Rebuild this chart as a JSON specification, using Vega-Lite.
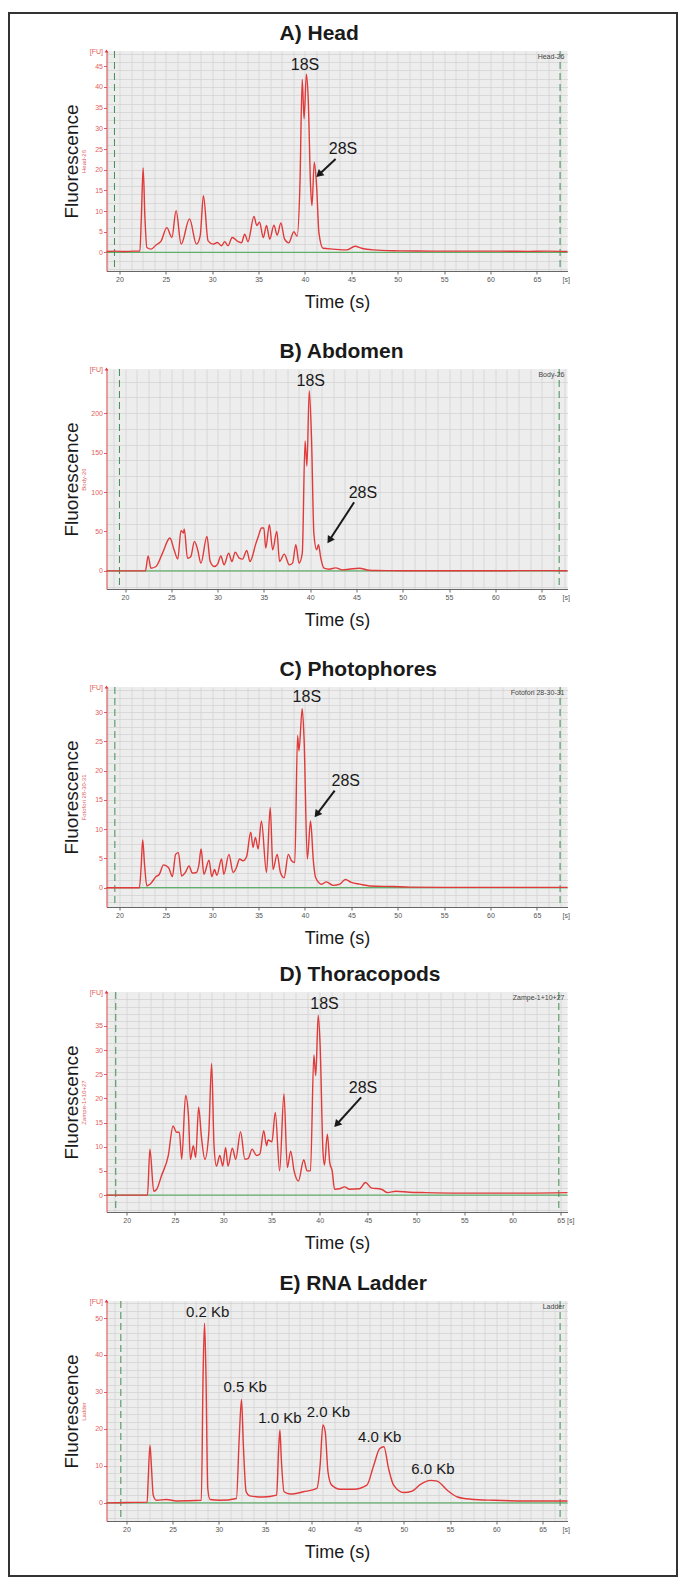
{
"$schema": "https://vega.github.io/schema/vega-lite/v6.json",
"padding": {"left": 8.5, "top": 13, "right": 5, "bottom": 5},
"background": "white",
"config": {
  "view": {"fill": "#ededed", "stroke": null},
  "font": "Liberation Sans",
  "title": {"anchor": "start", "dx": 217, "offset": 3, "fontSize": 21, "fontWeight": "bold", "font": "Liberation Sans", "color": "#1a1a1a"},
  "axis": {"labelFont": "Liberation Sans", "titleFont": "Liberation Sans", "titleFontWeight": "normal"}
},
"resolve": {"scale": {"color": "shared"}, "legend": {"color": "shared"}},
"datasets": {
  "A": [{"t":18.6,"fu":0.2},{"t":19.5,"fu":0.3},{"t":20.5,"fu":0.2},{"t":21.5,"fu":0.3},{"t":22.2,"fu":0.3},{"t":22.35,"fu":8},{"t":22.55,"fu":20.4},{"t":22.75,"fu":8},{"t":22.95,"fu":1.2},{"t":23.4,"fu":0.8},{"t":23.95,"fu":1.8},{"t":24.5,"fu":2.8},{"t":25.1,"fu":6.0},{"t":25.65,"fu":3.6},{"t":26.1,"fu":10.1},{"t":26.65,"fu":2.0},{"t":27.55,"fu":8.1},{"t":28.3,"fu":2.0},{"t":28.7,"fu":4},{"t":29.05,"fu":13.7},{"t":29.55,"fu":2.8},{"t":30.1,"fu":2.0},{"t":30.55,"fu":2.4},{"t":31.0,"fu":1.6},{"t":31.35,"fu":2.6},{"t":31.7,"fu":1.6},{"t":32.15,"fu":3.6},{"t":32.8,"fu":2.6},{"t":33.15,"fu":2.3},{"t":33.5,"fu":4.4},{"t":33.85,"fu":2.6},{"t":34.5,"fu":8.7},{"t":34.8,"fu":6.5},{"t":35.1,"fu":7.3},{"t":35.5,"fu":3.6},{"t":35.85,"fu":6.5},{"t":36.2,"fu":3.2},{"t":36.65,"fu":6.6},{"t":37.0,"fu":4.2},{"t":37.4,"fu":7.1},{"t":37.8,"fu":3.2},{"t":38.25,"fu":2.3},{"t":38.8,"fu":5.0},{"t":39.15,"fu":3.9},{"t":39.45,"fu":16},{"t":39.7,"fu":41.8},{"t":39.9,"fu":32.3},{"t":40.15,"fu":43.1},{"t":40.35,"fu":37},{"t":40.6,"fu":16},{"t":40.75,"fu":11.3},{"t":41.0,"fu":21.8},{"t":41.25,"fu":16.1},{"t":41.5,"fu":4.8},{"t":41.95,"fu":1.0},{"t":43.0,"fu":0.8},{"t":44.5,"fu":0.6},{"t":45.4,"fu":1.5},{"t":46.1,"fu":1.0},{"t":47.35,"fu":0.6},{"t":49.5,"fu":0.4},{"t":52,"fu":0.35},{"t":55,"fu":0.3},{"t":58,"fu":0.3},{"t":61,"fu":0.3},{"t":64,"fu":0.25},{"t":66,"fu":0.3},{"t":68.3,"fu":0.2}],
  "B": [{"t":18.0,"fu":0},{"t":20,"fu":0},{"t":22.2,"fu":0},{"t":22.5,"fu":19},{"t":22.8,"fu":3.4},{"t":23.35,"fu":5.5},{"t":24.05,"fu":22.5},{"t":24.85,"fu":41.6},{"t":25.3,"fu":26.8},{"t":25.7,"fu":14.9},{"t":26.05,"fu":51.4},{"t":26.3,"fu":48},{"t":26.4,"fu":53},{"t":26.75,"fu":16},{"t":27.1,"fu":18},{"t":27.5,"fu":37.4},{"t":27.85,"fu":26.8},{"t":28.2,"fu":9.8},{"t":28.85,"fu":43.7},{"t":29.2,"fu":11.9},{"t":29.65,"fu":5.5},{"t":30.0,"fu":8.5},{"t":30.35,"fu":19},{"t":30.7,"fu":7.6},{"t":31.2,"fu":22.5},{"t":31.55,"fu":11.9},{"t":31.9,"fu":23.8},{"t":32.35,"fu":16.1},{"t":32.7,"fu":14.9},{"t":33.15,"fu":25.9},{"t":33.5,"fu":11.9},{"t":34.15,"fu":35.2},{"t":34.4,"fu":43.7},{"t":34.75,"fu":54.4},{"t":35.0,"fu":54.4},{"t":35.2,"fu":28.9},{"t":35.6,"fu":58.6},{"t":35.95,"fu":26.8},{"t":36.4,"fu":50.1},{"t":36.7,"fu":11.9},{"t":37.2,"fu":21.2},{"t":37.75,"fu":7.6},{"t":38.1,"fu":9.8},{"t":38.45,"fu":33.1},{"t":38.8,"fu":9.8},{"t":39.15,"fu":22.5},{"t":39.45,"fu":164.8},{"t":39.65,"fu":132.9},{"t":39.9,"fu":228.5},{"t":40.15,"fu":166.9},{"t":40.4,"fu":48},{"t":40.7,"fu":26.8},{"t":40.9,"fu":33.1},{"t":41.15,"fu":16.1},{"t":41.5,"fu":3.4},{"t":42.05,"fu":2.1},{"t":42.75,"fu":3.8},{"t":43.5,"fu":1.3},{"t":44.2,"fu":2.1},{"t":45.3,"fu":3.4},{"t":46.35,"fu":0.8},{"t":47.1,"fu":0.4},{"t":50,"fu":0.2},{"t":55,"fu":0.2},{"t":60,"fu":0.2},{"t":64.5,"fu":0.3},{"t":67.8,"fu":0.2}],
  "C": [{"t":18.6,"fu":0},{"t":20,"fu":0},{"t":22.15,"fu":0},{"t":22.35,"fu":4},{"t":22.5,"fu":8.2},{"t":22.7,"fu":4},{"t":22.95,"fu":0.3},{"t":23.3,"fu":0.6},{"t":23.95,"fu":1.9},{"t":24.3,"fu":2.3},{"t":24.75,"fu":3.9},{"t":25.3,"fu":3.4},{"t":25.7,"fu":1.9},{"t":26.05,"fu":5.7},{"t":26.35,"fu":6.0},{"t":26.7,"fu":2.0},{"t":27.1,"fu":2.6},{"t":27.5,"fu":3.7},{"t":27.85,"fu":2.5},{"t":28.3,"fu":2.6},{"t":28.55,"fu":3.8},{"t":28.8,"fu":6.6},{"t":29.1,"fu":2.3},{"t":29.65,"fu":4.7},{"t":29.95,"fu":1.9},{"t":30.25,"fu":3.1},{"t":30.5,"fu":2.1},{"t":31.0,"fu":4.9},{"t":31.25,"fu":2.3},{"t":31.8,"fu":5.7},{"t":32.25,"fu":2.6},{"t":32.6,"fu":3.4},{"t":32.95,"fu":4.9},{"t":33.3,"fu":4.6},{"t":33.7,"fu":5.3},{"t":34.15,"fu":9.5},{"t":34.4,"fu":6.9},{"t":34.65,"fu":8.6},{"t":34.95,"fu":6.6},{"t":35.3,"fu":11.4},{"t":35.85,"fu":2.6},{"t":36.25,"fu":13.7},{"t":36.55,"fu":3.1},{"t":37.0,"fu":5.7},{"t":37.35,"fu":2.6},{"t":37.75,"fu":1.7},{"t":38.2,"fu":5.7},{"t":38.55,"fu":4.6},{"t":38.9,"fu":4.3},{"t":39.2,"fu":26},{"t":39.35,"fu":23.4},{"t":39.7,"fu":30.6},{"t":39.9,"fu":25.4},{"t":40.25,"fu":4.9},{"t":40.6,"fu":11.4},{"t":40.9,"fu":4.6},{"t":41.15,"fu":1.7},{"t":41.8,"fu":0.6},{"t":42.3,"fu":1.0},{"t":43.05,"fu":0.4},{"t":43.75,"fu":0.6},{"t":44.35,"fu":1.4},{"t":45.0,"fu":0.9},{"t":45.9,"fu":0.6},{"t":47.0,"fu":0.3},{"t":49.5,"fu":0.2},{"t":51.3,"fu":0.1},{"t":55,"fu":0.05},{"t":60,"fu":0.05},{"t":65,"fu":0.05},{"t":68.3,"fu":0.05}],
  "D": [{"t":17.9,"fu":0},{"t":20,"fu":0},{"t":22.15,"fu":0},{"t":22.4,"fu":9.5},{"t":22.8,"fu":0.8},{"t":23.1,"fu":1.2},{"t":23.6,"fu":4.0},{"t":24.3,"fu":8.1},{"t":24.8,"fu":14.3},{"t":25.15,"fu":13},{"t":25.45,"fu":13},{"t":25.7,"fu":7.4},{"t":26.1,"fu":20.6},{"t":26.4,"fu":16.4},{"t":26.6,"fu":7.4},{"t":26.9,"fu":10.2},{"t":27.15,"fu":7.8},{"t":27.45,"fu":18.2},{"t":27.75,"fu":11.9},{"t":28.1,"fu":7.4},{"t":28.5,"fu":12.6},{"t":28.8,"fu":27.2},{"t":29.05,"fu":10.2},{"t":29.3,"fu":6.0},{"t":29.65,"fu":8.2},{"t":29.95,"fu":6.0},{"t":30.25,"fu":9.8},{"t":30.5,"fu":6.0},{"t":30.95,"fu":9.7},{"t":31.3,"fu":7.4},{"t":31.8,"fu":13.1},{"t":32.25,"fu":7.4},{"t":32.6,"fu":7.6},{"t":33.0,"fu":9.5},{"t":33.45,"fu":8.2},{"t":33.8,"fu":8.5},{"t":34.2,"fu":13.3},{"t":34.5,"fu":10.2},{"t":34.65,"fu":11.4},{"t":35.05,"fu":11.0},{"t":35.4,"fu":17.1},{"t":35.85,"fu":5.0},{"t":36.3,"fu":20.9},{"t":36.65,"fu":5.7},{"t":37.0,"fu":9.1},{"t":37.35,"fu":5.0},{"t":37.8,"fu":2.9},{"t":38.35,"fu":7.3},{"t":38.7,"fu":5.0},{"t":39.05,"fu":5.0},{"t":39.4,"fu":29.0},{"t":39.6,"fu":24.7},{"t":39.85,"fu":37.2},{"t":40.05,"fu":31.0},{"t":40.35,"fu":8.8},{"t":40.5,"fu":6.2},{"t":40.8,"fu":12.6},{"t":41.05,"fu":6.7},{"t":41.3,"fu":5.0},{"t":41.55,"fu":1.2},{"t":42.05,"fu":1.3},{"t":42.6,"fu":1.7},{"t":43.1,"fu":1.2},{"t":44.15,"fu":1.3},{"t":44.75,"fu":2.6},{"t":45.35,"fu":1.5},{"t":46.4,"fu":1.2},{"t":47.05,"fu":0.5},{"t":47.9,"fu":0.8},{"t":49.3,"fu":0.6},{"t":51.0,"fu":0.5},{"t":54.5,"fu":0.4},{"t":57.9,"fu":0.4},{"t":61.4,"fu":0.4},{"t":65.7,"fu":0.5}],
  "E": [{"t":17.85,"fu":0},{"t":20,"fu":0.1},{"t":22.25,"fu":0.2},{"t":22.35,"fu":5.7},{"t":22.55,"fu":15.6},{"t":22.7,"fu":10.2},{"t":22.9,"fu":2.1},{"t":23.25,"fu":0.7},{"t":24.35,"fu":0.9},{"t":25.4,"fu":0.5},{"t":28.1,"fu":0.7},{"t":28.3,"fu":35.5},{"t":28.45,"fu":48.6},{"t":28.6,"fu":35.5},{"t":28.8,"fu":3.9},{"t":29.05,"fu":0.9},{"t":30.1,"fu":0.7},{"t":31.9,"fu":1.2},{"t":32.2,"fu":17.5},{"t":32.45,"fu":28.0},{"t":32.65,"fu":15.6},{"t":32.95,"fu":3.0},{"t":33.35,"fu":1.9},{"t":34.8,"fu":1.6},{"t":36.25,"fu":2.1},{"t":36.45,"fu":13.8},{"t":36.6,"fu":19.7},{"t":36.75,"fu":12.0},{"t":37.05,"fu":3.0},{"t":37.7,"fu":2.4},{"t":39.15,"fu":3.0},{"t":40.6,"fu":3.9},{"t":40.95,"fu":10.2},{"t":41.25,"fu":21.1},{"t":41.5,"fu":19.3},{"t":41.8,"fu":8.4},{"t":42.2,"fu":4.8},{"t":43.15,"fu":3.7},{"t":44.6,"fu":3.7},{"t":46.0,"fu":4.8},{"t":46.75,"fu":10.2},{"t":47.4,"fu":14.7},{"t":47.85,"fu":15.2},{"t":48.35,"fu":9.3},{"t":48.9,"fu":4.8},{"t":50.0,"fu":2.8},{"t":50.9,"fu":3.2},{"t":51.8,"fu":5.0},{"t":52.9,"fu":6.1},{"t":53.6,"fu":5.9},{"t":54.7,"fu":3.4},{"t":55.8,"fu":1.6},{"t":57.25,"fu":1.0},{"t":59.75,"fu":0.7},{"t":63.35,"fu":0.5},{"t":67.7,"fu":0.5}]
},
"spacing": 17,
"vconcat": [
 {"spacing": 30, "resolve": {"scale": {"color": "shared"}, "legend": {"color": "shared"}}, "vconcat": [
  {"width": 461, "height": 220, "title": {"text": "A) Head"},
   "resolve": {"axis": {"x": "independent", "y": "independent"}},
   "layer": [
    {"data": {"values": [{"fu": 0}]}, "mark": {"type": "rule", "color": "#5fae6a", "strokeWidth": 1.2},
     "encoding": {"y": {"field": "fu", "type": "quantitative", "scale": {"domain": [-4.5, 48.7], "nice": false, "zero": false},
       "axis": {"orient": "left", "values": [-4,-2,0,2,4,6,8,10,12,14,16,18,20,22,24,26,28,30,32,34,36,38,40,42,44,46,48], "grid": true, "gridColor": "#d3d3d3", "gridWidth": 0.8, "labels": false, "ticks": false, "domain": false, "title": "Fluorescence", "titleFontSize": 19, "titleColor": "#1a1a1a", "titlePadding": 25}}}},
    {"data": {"values": [{"t": 19.46}, {"t": 67.5}]}, "mark": {"type": "rule", "color": "#3f8f55", "strokeDash": [7, 4], "strokeWidth": 1},
     "encoding": {"x": {"field": "t", "type": "quantitative", "scale": {"domain": [18.6, 68.3], "nice": false, "zero": false},
       "axis": {"orient": "bottom", "values": [18.75,20,21.25,22.5,23.75,25,26.25,27.5,28.75,30,31.25,32.5,33.75,35,36.25,37.5,38.75,40,41.25,42.5,43.75,45,46.25,47.5,48.75,50,51.25,52.5,53.75,55,56.25,57.5,58.75,60,61.25,62.5,63.75,65,66.25,67.5], "grid": true, "gridColor": "#d3d3d3", "gridWidth": 0.8, "labels": false, "ticks": false, "domain": false, "title": null}}}},
    {"data": {"name": "A"}, "mark": {"type": "line", "color": "#e03a3a", "strokeWidth": 1.4, "interpolate": "monotone"},
     "encoding": {
      "x": {"field": "t", "type": "quantitative", "scale": {"domain": [18.6, 68.3], "nice": false, "zero": false},
        "axis": {"orient": "bottom", "values": [20,25,30,35,40,45,50,55,60,65,68.1], "labelExpr": "datum.value > 66 ? '[s]' : datum.label", "tickOpacity": {"condition": {"test": "datum.value > 66", "value": 0}, "value": 1}, "grid": false, "labelFontSize": 7, "labelColor": "#555", "tickColor": "#666", "domainColor": "#666", "tickSize": 3, "labelPadding": 1, "labelOverlap": false, "labelFlush": false, "title": "Time (s)", "titleFontSize": 18, "titleColor": "#1a1a1a", "titlePadding": 11}},
      "y": {"field": "fu", "type": "quantitative", "scale": {"domain": [-4.5, 48.7], "nice": false, "zero": false},
        "axis": {"orient": "left", "values": [0,5,10,15,20,25,30,35,40,45,48.7], "labelExpr": "datum.value > 47 ? '[FU]' : datum.label", "tickOpacity": {"condition": {"test": "datum.value > 47", "value": 0}, "value": 1}, "grid": false, "labelFontSize": 7, "labelColor": "#e06060", "tickColor": "#e06060", "domainColor": "#e04848", "tickSize": 3, "labelPadding": 1, "labelOverlap": false, "labelFlush": false, "title": "Head-26", "titleFontSize": 6, "titleColor": "#e06060", "titlePadding": 3}}}},
    {"data": {"values": [{"t": 40.0, "fu": 45.2, "label": "18S"}, {"t": 44.1, "fu": 25, "label": "28S"}]},
     "mark": {"type": "text", "fontSize": 16, "color": "#1a1a1a", "baseline": "middle"},
     "encoding": {"x": {"field": "t", "type": "quantitative", "scale": {"domain": [18.6, 68.3], "nice": false, "zero": false}, "axis": null},
      "y": {"field": "fu", "type": "quantitative", "scale": {"domain": [-4.5, 48.7], "nice": false, "zero": false}, "axis": null}, "text": {"field": "label"}}},
    {"data": {"values": [{"t": 43.3, "fu": 22.6, "t2": 41.6, "fu2": 19.0}]}, "mark": {"type": "rule", "color": "#1a1a1a", "strokeWidth": 2},
     "encoding": {"x": {"field": "t", "type": "quantitative", "scale": {"domain": [18.6, 68.3], "nice": false, "zero": false}, "axis": null},
      "y": {"field": "fu", "type": "quantitative", "scale": {"domain": [-4.5, 48.7], "nice": false, "zero": false}, "axis": null},
      "x2": {"field": "t2"}, "y2": {"field": "fu2"}}},
    {"data": {"values": [{"t2": 41.6, "fu2": 19.0}]}, "mark": {"type": "point", "shape": "triangle", "filled": true, "size": 70, "angle": 227, "color": "#1a1a1a", "opacity": 1},
     "encoding": {"x": {"field": "t2", "type": "quantitative", "scale": {"domain": [18.6, 68.3], "nice": false, "zero": false}, "axis": null},
      "y": {"field": "fu2", "type": "quantitative", "scale": {"domain": [-4.5, 48.7], "nice": false, "zero": false}, "axis": null}}},
    {"data": {"values": [{}]}, "mark": {"type": "text", "text": "Head-26", "align": "right", "baseline": "top", "fontSize": 7, "color": "#444", "dx": -3, "dy": 2},
     "encoding": {"x": {"datum": 68.3, "type": "quantitative", "scale": {"domain": [18.6, 68.3], "nice": false, "zero": false}, "axis": null},
      "y": {"datum": 48.7, "type": "quantitative", "scale": {"domain": [-4.5, 48.7], "nice": false, "zero": false}, "axis": null}}},
    {"data": {"values": [{}]}, "mark": {"type": "point", "shape": "triangle-up", "filled": true, "size": 14, "color": "#e03a3a", "opacity": 1},
     "encoding": {"x": {"datum": 18.6, "type": "quantitative", "scale": {"domain": [18.6, 68.3], "nice": false, "zero": false}, "axis": null},
      "y": {"datum": 48.7, "type": "quantitative", "scale": {"domain": [-4.5, 48.7], "nice": false, "zero": false}, "axis": null}}},
    {"data": {"values": [{"v": 0}, {"v": 1}]}, "mark": {"type": "point", "opacity": 0},
     "encoding": {"x": {"datum": 30, "type": "quantitative", "scale": {"domain": [18.6, 68.3], "nice": false, "zero": false}, "axis": null},
      "y": {"datum": 10, "type": "quantitative", "scale": {"domain": [-4.5, 48.7], "nice": false, "zero": false}, "axis": null},
      "color": {"field": "v", "type": "quantitative", "scale": {"domain": [0, 1], "range": ["rgba(255,255,255,0)", "rgba(255,255,255,0)"]},
        "legend": {"orient": "none", "legendX": -97.5, "legendY": -38, "direction": "vertical", "gradientLength": 1563, "gradientThickness": 668, "gradientStrokeColor": "#333333", "gradientStrokeWidth": 2, "title": null, "labelExpr": "''", "labelFontSize": 1, "padding": 0, "offset": 0, "tickCount": 2}}}}
   ]},
  {"width": 461, "height": 220, "title": {"text": "B) Abdomen"},
   "resolve": {"axis": {"x": "independent", "y": "independent"}},
   "layer": [
    {"data": {"values": [{"fu": 0}]}, "mark": {"type": "rule", "color": "#5fae6a", "strokeWidth": 1.2},
     "encoding": {"y": {"field": "fu", "type": "quantitative", "scale": {"domain": [-23, 256], "nice": false, "zero": false},
       "axis": {"orient": "left", "values": [-20,0,20,40,60,80,100,120,140,160,180,200,220,240], "grid": true, "gridColor": "#d3d3d3", "gridWidth": 0.8, "labels": false, "ticks": false, "domain": false, "title": "Fluorescence", "titleFontSize": 19, "titleColor": "#1a1a1a", "titlePadding": 25}}}},
    {"data": {"values": [{"t": 19.4}, {"t": 66.9}]}, "mark": {"type": "rule", "color": "#3f8f55", "strokeDash": [7, 4], "strokeWidth": 1},
     "encoding": {"x": {"field": "t", "type": "quantitative", "scale": {"domain": [18.0, 67.8], "nice": false, "zero": false},
       "axis": {"orient": "bottom", "values": [18.75,20,21.25,22.5,23.75,25,26.25,27.5,28.75,30,31.25,32.5,33.75,35,36.25,37.5,38.75,40,41.25,42.5,43.75,45,46.25,47.5,48.75,50,51.25,52.5,53.75,55,56.25,57.5,58.75,60,61.25,62.5,63.75,65,66.25,67.5], "grid": true, "gridColor": "#d3d3d3", "gridWidth": 0.8, "labels": false, "ticks": false, "domain": false, "title": null}}}},
    {"data": {"name": "B"}, "mark": {"type": "line", "color": "#e03a3a", "strokeWidth": 1.4, "interpolate": "monotone"},
     "encoding": {
      "x": {"field": "t", "type": "quantitative", "scale": {"domain": [18.0, 67.8], "nice": false, "zero": false},
        "axis": {"orient": "bottom", "values": [20,25,30,35,40,45,50,55,60,65,67.6], "labelExpr": "datum.value > 66 ? '[s]' : datum.label", "tickOpacity": {"condition": {"test": "datum.value > 66", "value": 0}, "value": 1}, "grid": false, "labelFontSize": 7, "labelColor": "#555", "tickColor": "#666", "domainColor": "#666", "tickSize": 3, "labelPadding": 1, "labelOverlap": false, "labelFlush": false, "title": "Time (s)", "titleFontSize": 18, "titleColor": "#1a1a1a", "titlePadding": 11}},
      "y": {"field": "fu", "type": "quantitative", "scale": {"domain": [-23, 256], "nice": false, "zero": false},
        "axis": {"orient": "left", "values": [0,50,100,150,200,256], "labelExpr": "datum.value > 250 ? '[FU]' : datum.label", "tickOpacity": {"condition": {"test": "datum.value > 250", "value": 0}, "value": 1}, "grid": false, "labelFontSize": 7, "labelColor": "#e06060", "tickColor": "#e06060", "domainColor": "#e04848", "tickSize": 3, "labelPadding": 1, "labelOverlap": false, "labelFlush": false, "title": "Body-26", "titleFontSize": 6, "titleColor": "#e06060", "titlePadding": 3}}}},
    {"data": {"values": [{"t": 40.07, "fu": 241, "label": "18S"}, {"t": 45.7, "fu": 99, "label": "28S"}]},
     "mark": {"type": "text", "fontSize": 16, "color": "#1a1a1a", "baseline": "middle"},
     "encoding": {"x": {"field": "t", "type": "quantitative", "scale": {"domain": [18.0, 67.8], "nice": false, "zero": false}, "axis": null},
      "y": {"field": "fu", "type": "quantitative", "scale": {"domain": [-23, 256], "nice": false, "zero": false}, "axis": null}, "text": {"field": "label"}}},
    {"data": {"values": [{"t": 44.75, "fu": 87, "t2": 42.15, "fu2": 40}]}, "mark": {"type": "rule", "color": "#1a1a1a", "strokeWidth": 2},
     "encoding": {"x": {"field": "t", "type": "quantitative", "scale": {"domain": [18.0, 67.8], "nice": false, "zero": false}, "axis": null},
      "y": {"field": "fu", "type": "quantitative", "scale": {"domain": [-23, 256], "nice": false, "zero": false}, "axis": null},
      "x2": {"field": "t2"}, "y2": {"field": "fu2"}}},
    {"data": {"values": [{"t2": 42.15, "fu2": 40}]}, "mark": {"type": "point", "shape": "triangle", "filled": true, "size": 70, "angle": 213, "color": "#1a1a1a", "opacity": 1},
     "encoding": {"x": {"field": "t2", "type": "quantitative", "scale": {"domain": [18.0, 67.8], "nice": false, "zero": false}, "axis": null},
      "y": {"field": "fu2", "type": "quantitative", "scale": {"domain": [-23, 256], "nice": false, "zero": false}, "axis": null}}},
    {"data": {"values": [{}]}, "mark": {"type": "text", "text": "Body-26", "align": "right", "baseline": "top", "fontSize": 7, "color": "#444", "dx": -3, "dy": 2},
     "encoding": {"x": {"datum": 67.8, "type": "quantitative", "scale": {"domain": [18.0, 67.8], "nice": false, "zero": false}, "axis": null},
      "y": {"datum": 256, "type": "quantitative", "scale": {"domain": [-23, 256], "nice": false, "zero": false}, "axis": null}}},
    {"data": {"values": [{}]}, "mark": {"type": "point", "shape": "triangle-up", "filled": true, "size": 14, "color": "#e03a3a", "opacity": 1},
     "encoding": {"x": {"datum": 18.0, "type": "quantitative", "scale": {"domain": [18.0, 67.8], "nice": false, "zero": false}, "axis": null},
      "y": {"datum": 256, "type": "quantitative", "scale": {"domain": [-23, 256], "nice": false, "zero": false}, "axis": null}}}
   ]},
  {"width": 461, "height": 220, "title": {"text": "C) Photophores"},
   "resolve": {"axis": {"x": "independent", "y": "independent"}},
   "layer": [
    {"data": {"values": [{"fu": 0}]}, "mark": {"type": "rule", "color": "#5fae6a", "strokeWidth": 1.2},
     "encoding": {"y": {"field": "fu", "type": "quantitative", "scale": {"domain": [-3.3, 34.3], "nice": false, "zero": false},
       "axis": {"orient": "left", "values": [-2.5,-1.25,0,1.25,2.5,3.75,5,6.25,7.5,8.75,10,11.25,12.5,13.75,15,16.25,17.5,18.75,20,21.25,22.5,23.75,25,26.25,27.5,28.75,30,31.25,32.5,33.75], "grid": true, "gridColor": "#d3d3d3", "gridWidth": 0.8, "labels": false, "ticks": false, "domain": false, "title": "Fluorescence", "titleFontSize": 19, "titleColor": "#1a1a1a", "titlePadding": 25}}}},
    {"data": {"values": [{"t": 19.5}, {"t": 67.5}]}, "mark": {"type": "rule", "color": "#3f8f55", "strokeDash": [7, 4], "strokeWidth": 1},
     "encoding": {"x": {"field": "t", "type": "quantitative", "scale": {"domain": [18.6, 68.3], "nice": false, "zero": false},
       "axis": {"orient": "bottom", "values": [18.75,20,21.25,22.5,23.75,25,26.25,27.5,28.75,30,31.25,32.5,33.75,35,36.25,37.5,38.75,40,41.25,42.5,43.75,45,46.25,47.5,48.75,50,51.25,52.5,53.75,55,56.25,57.5,58.75,60,61.25,62.5,63.75,65,66.25,67.5], "grid": true, "gridColor": "#d3d3d3", "gridWidth": 0.8, "labels": false, "ticks": false, "domain": false, "title": null}}}},
    {"data": {"name": "C"}, "mark": {"type": "line", "color": "#e03a3a", "strokeWidth": 1.4, "interpolate": "monotone"},
     "encoding": {
      "x": {"field": "t", "type": "quantitative", "scale": {"domain": [18.6, 68.3], "nice": false, "zero": false},
        "axis": {"orient": "bottom", "values": [20,25,30,35,40,45,50,55,60,65,68.1], "labelExpr": "datum.value > 66 ? '[s]' : datum.label", "tickOpacity": {"condition": {"test": "datum.value > 66", "value": 0}, "value": 1}, "grid": false, "labelFontSize": 7, "labelColor": "#555", "tickColor": "#666", "domainColor": "#666", "tickSize": 3, "labelPadding": 1, "labelOverlap": false, "labelFlush": false, "title": "Time (s)", "titleFontSize": 18, "titleColor": "#1a1a1a", "titlePadding": 11}},
      "y": {"field": "fu", "type": "quantitative", "scale": {"domain": [-3.3, 34.3], "nice": false, "zero": false},
        "axis": {"orient": "left", "values": [0,5,10,15,20,25,30,34.3], "labelExpr": "datum.value > 33 ? '[FU]' : datum.label", "tickOpacity": {"condition": {"test": "datum.value > 33", "value": 0}, "value": 1}, "grid": false, "labelFontSize": 7, "labelColor": "#e06060", "tickColor": "#e06060", "domainColor": "#e04848", "tickSize": 3, "labelPadding": 1, "labelOverlap": false, "labelFlush": false, "title": "Fotofori 28-30-31", "titleFontSize": 6, "titleColor": "#e06060", "titlePadding": 3}}}},
    {"data": {"values": [{"t": 40.2, "fu": 32.6, "label": "18S"}, {"t": 44.4, "fu": 18.3, "label": "28S"}]},
     "mark": {"type": "text", "fontSize": 16, "color": "#1a1a1a", "baseline": "middle"},
     "encoding": {"x": {"field": "t", "type": "quantitative", "scale": {"domain": [18.6, 68.3], "nice": false, "zero": false}, "axis": null},
      "y": {"field": "fu", "type": "quantitative", "scale": {"domain": [-3.3, 34.3], "nice": false, "zero": false}, "axis": null}, "text": {"field": "label"}}},
    {"data": {"values": [{"t": 43.2, "fu": 16.6, "t2": 41.35, "fu2": 12.7}]}, "mark": {"type": "rule", "color": "#1a1a1a", "strokeWidth": 2},
     "encoding": {"x": {"field": "t", "type": "quantitative", "scale": {"domain": [18.6, 68.3], "nice": false, "zero": false}, "axis": null},
      "y": {"field": "fu", "type": "quantitative", "scale": {"domain": [-3.3, 34.3], "nice": false, "zero": false}, "axis": null},
      "x2": {"field": "t2"}, "y2": {"field": "fu2"}}},
    {"data": {"values": [{"t2": 41.35, "fu2": 12.7}]}, "mark": {"type": "point", "shape": "triangle", "filled": true, "size": 70, "angle": 217, "color": "#1a1a1a", "opacity": 1},
     "encoding": {"x": {"field": "t2", "type": "quantitative", "scale": {"domain": [18.6, 68.3], "nice": false, "zero": false}, "axis": null},
      "y": {"field": "fu2", "type": "quantitative", "scale": {"domain": [-3.3, 34.3], "nice": false, "zero": false}, "axis": null}}},
    {"data": {"values": [{}]}, "mark": {"type": "text", "text": "Fotofori 28-30-31", "align": "right", "baseline": "top", "fontSize": 7, "color": "#444", "dx": -3, "dy": 2},
     "encoding": {"x": {"datum": 68.3, "type": "quantitative", "scale": {"domain": [18.6, 68.3], "nice": false, "zero": false}, "axis": null},
      "y": {"datum": 34.3, "type": "quantitative", "scale": {"domain": [-3.3, 34.3], "nice": false, "zero": false}, "axis": null}}},
    {"data": {"values": [{}]}, "mark": {"type": "point", "shape": "triangle-up", "filled": true, "size": 14, "color": "#e03a3a", "opacity": 1},
     "encoding": {"x": {"datum": 18.6, "type": "quantitative", "scale": {"domain": [18.6, 68.3], "nice": false, "zero": false}, "axis": null},
      "y": {"datum": 34.3, "type": "quantitative", "scale": {"domain": [-3.3, 34.3], "nice": false, "zero": false}, "axis": null}}}
   ]}
 ]},
 {"spacing": 21, "vconcat": [
  {"width": 461, "height": 220, "title": {"text": "D) Thoracopods"},
   "resolve": {"axis": {"x": "independent", "y": "independent"}},
   "layer": [
    {"data": {"values": [{"fu": 0}]}, "mark": {"type": "rule", "color": "#5fae6a", "strokeWidth": 1.2},
     "encoding": {"y": {"field": "fu", "type": "quantitative", "scale": {"domain": [-3.5, 42], "nice": false, "zero": false},
       "axis": {"orient": "left", "values": [-3,-1.5,0,1.5,3,4.5,6,7.5,9,10.5,12,13.5,15,16.5,18,19.5,21,22.5,24,25.5,27,28.5,30,31.5,33,34.5,36,37.5,39,40.5], "grid": true, "gridColor": "#d3d3d3", "gridWidth": 0.8, "labels": false, "ticks": false, "domain": false, "title": "Fluorescence", "titleFontSize": 19, "titleColor": "#1a1a1a", "titlePadding": 25}}}},
    {"data": {"values": [{"t": 18.86}, {"t": 64.8}]}, "mark": {"type": "rule", "color": "#3f8f55", "strokeDash": [7, 4], "strokeWidth": 1},
     "encoding": {"x": {"field": "t", "type": "quantitative", "scale": {"domain": [17.9, 65.7], "nice": false, "zero": false},
       "axis": {"orient": "bottom", "values": [18.75,20,21.25,22.5,23.75,25,26.25,27.5,28.75,30,31.25,32.5,33.75,35,36.25,37.5,38.75,40,41.25,42.5,43.75,45,46.25,47.5,48.75,50,51.25,52.5,53.75,55,56.25,57.5,58.75,60,61.25,62.5,63.75,65], "grid": true, "gridColor": "#d3d3d3", "gridWidth": 0.8, "labels": false, "ticks": false, "domain": false, "title": null}}}},
    {"data": {"name": "D"}, "mark": {"type": "line", "color": "#e03a3a", "strokeWidth": 1.4, "interpolate": "monotone"},
     "encoding": {
      "x": {"field": "t", "type": "quantitative", "scale": {"domain": [17.9, 65.7], "nice": false, "zero": false},
        "axis": {"orient": "bottom", "values": [20,25,30,35,40,45,50,55,60,65,65.6], "labelExpr": "datum.value > 65.3 ? '[s]' : datum.label", "labelAlign": {"condition": {"test": "datum.value > 65.3", "value": "left"}, "value": "center"}, "tickOpacity": {"condition": {"test": "datum.value > 65.3", "value": 0}, "value": 1}, "grid": false, "labelFontSize": 7, "labelColor": "#555", "tickColor": "#666", "domainColor": "#666", "tickSize": 3, "labelPadding": 1, "labelOverlap": false, "labelFlush": false, "title": "Time (s)", "titleFontSize": 18, "titleColor": "#1a1a1a", "titlePadding": 11}},
      "y": {"field": "fu", "type": "quantitative", "scale": {"domain": [-3.5, 42], "nice": false, "zero": false},
        "axis": {"orient": "left", "values": [0,5,10,15,20,25,30,35,42], "labelExpr": "datum.value > 40 ? '[FU]' : datum.label", "tickOpacity": {"condition": {"test": "datum.value > 40", "value": 0}, "value": 1}, "grid": false, "labelFontSize": 7, "labelColor": "#e06060", "tickColor": "#e06060", "domainColor": "#e04848", "tickSize": 3, "labelPadding": 1, "labelOverlap": false, "labelFlush": false, "title": "Zampe-1+10+27", "titleFontSize": 6, "titleColor": "#e06060", "titlePadding": 3}}}},
    {"data": {"values": [{"t": 40.5, "fu": 39.6, "label": "18S"}, {"t": 44.5, "fu": 22.1, "label": "28S"}]},
     "mark": {"type": "text", "fontSize": 16, "color": "#1a1a1a", "baseline": "middle"},
     "encoding": {"x": {"field": "t", "type": "quantitative", "scale": {"domain": [17.9, 65.7], "nice": false, "zero": false}, "axis": null},
      "y": {"field": "fu", "type": "quantitative", "scale": {"domain": [-3.5, 42], "nice": false, "zero": false}, "axis": null}, "text": {"field": "label"}}},
    {"data": {"values": [{"t": 44.3, "fu": 20.2, "t2": 41.85, "fu2": 14.8}]}, "mark": {"type": "rule", "color": "#1a1a1a", "strokeWidth": 2},
     "encoding": {"x": {"field": "t", "type": "quantitative", "scale": {"domain": [17.9, 65.7], "nice": false, "zero": false}, "axis": null},
      "y": {"field": "fu", "type": "quantitative", "scale": {"domain": [-3.5, 42], "nice": false, "zero": false}, "axis": null},
      "x2": {"field": "t2"}, "y2": {"field": "fu2"}}},
    {"data": {"values": [{"t2": 41.85, "fu2": 14.8}]}, "mark": {"type": "point", "shape": "triangle", "filled": true, "size": 70, "angle": 222, "color": "#1a1a1a", "opacity": 1},
     "encoding": {"x": {"field": "t2", "type": "quantitative", "scale": {"domain": [17.9, 65.7], "nice": false, "zero": false}, "axis": null},
      "y": {"field": "fu2", "type": "quantitative", "scale": {"domain": [-3.5, 42], "nice": false, "zero": false}, "axis": null}}},
    {"data": {"values": [{}]}, "mark": {"type": "text", "text": "Zampe-1+10+27", "align": "right", "baseline": "top", "fontSize": 7, "color": "#444", "dx": -3, "dy": 2},
     "encoding": {"x": {"datum": 65.7, "type": "quantitative", "scale": {"domain": [17.9, 65.7], "nice": false, "zero": false}, "axis": null},
      "y": {"datum": 42, "type": "quantitative", "scale": {"domain": [-3.5, 42], "nice": false, "zero": false}, "axis": null}}},
    {"data": {"values": [{}]}, "mark": {"type": "point", "shape": "triangle-up", "filled": true, "size": 14, "color": "#e03a3a", "opacity": 1},
     "encoding": {"x": {"datum": 17.9, "type": "quantitative", "scale": {"domain": [17.9, 65.7], "nice": false, "zero": false}, "axis": null},
      "y": {"datum": 42, "type": "quantitative", "scale": {"domain": [-3.5, 42], "nice": false, "zero": false}, "axis": null}}}
   ]},
  {"width": 461, "height": 220, "title": {"text": "E) RNA Ladder"},
   "resolve": {"axis": {"x": "independent", "y": "independent"}},
   "layer": [
    {"data": {"values": [{"fu": 0}]}, "mark": {"type": "rule", "color": "#5fae6a", "strokeWidth": 1.2},
     "encoding": {"y": {"field": "fu", "type": "quantitative", "scale": {"domain": [-4.9, 54.6], "nice": false, "zero": false},
       "axis": {"orient": "left", "values": [-4,-2,0,2,4,6,8,10,12,14,16,18,20,22,24,26,28,30,32,34,36,38,40,42,44,46,48,50,52,54], "grid": true, "gridColor": "#d3d3d3", "gridWidth": 0.8, "labels": false, "ticks": false, "domain": false, "title": "Fluorescence", "titleFontSize": 19, "titleColor": "#1a1a1a", "titlePadding": 25}}}},
    {"data": {"values": [{"t": 19.4}, {"t": 66.9}]}, "mark": {"type": "rule", "color": "#3f8f55", "strokeDash": [7, 4], "strokeWidth": 1},
     "encoding": {"x": {"field": "t", "type": "quantitative", "scale": {"domain": [17.85, 67.7], "nice": false, "zero": false},
       "axis": {"orient": "bottom", "values": [18.75,20,21.25,22.5,23.75,25,26.25,27.5,28.75,30,31.25,32.5,33.75,35,36.25,37.5,38.75,40,41.25,42.5,43.75,45,46.25,47.5,48.75,50,51.25,52.5,53.75,55,56.25,57.5,58.75,60,61.25,62.5,63.75,65,66.25,67.5], "grid": true, "gridColor": "#d3d3d3", "gridWidth": 0.8, "labels": false, "ticks": false, "domain": false, "title": null}}}},
    {"data": {"name": "E"}, "mark": {"type": "line", "color": "#e03a3a", "strokeWidth": 1.4, "interpolate": "monotone"},
     "encoding": {
      "x": {"field": "t", "type": "quantitative", "scale": {"domain": [17.85, 67.7], "nice": false, "zero": false},
        "axis": {"orient": "bottom", "values": [20,25,30,35,40,45,50,55,60,65,67.5], "labelExpr": "datum.value > 66 ? '[s]' : datum.label", "tickOpacity": {"condition": {"test": "datum.value > 66", "value": 0}, "value": 1}, "grid": false, "labelFontSize": 7, "labelColor": "#555", "tickColor": "#666", "domainColor": "#666", "tickSize": 3, "labelPadding": 1, "labelOverlap": false, "labelFlush": false, "title": "Time (s)", "titleFontSize": 18, "titleColor": "#1a1a1a", "titlePadding": 11}},
      "y": {"field": "fu", "type": "quantitative", "scale": {"domain": [-4.9, 54.6], "nice": false, "zero": false},
        "axis": {"orient": "left", "values": [0,10,20,30,40,50,54.6], "labelExpr": "datum.value > 53 ? '[FU]' : datum.label", "tickOpacity": {"condition": {"test": "datum.value > 53", "value": 0}, "value": 1}, "grid": false, "labelFontSize": 7, "labelColor": "#e06060", "tickColor": "#e06060", "domainColor": "#e04848", "tickSize": 3, "labelPadding": 1, "labelOverlap": false, "labelFlush": false, "title": "Ladder", "titleFontSize": 6, "titleColor": "#e06060", "titlePadding": 3}}}},
    {"data": {"values": [{"t": 28.8, "fu": 51.6, "label": "0.2 Kb"}, {"t": 32.85, "fu": 31.3, "label": "0.5 Kb"}, {"t": 36.6, "fu": 22.9, "label": "1.0 Kb"}, {"t": 41.85, "fu": 24.7, "label": "2.0 Kb"}, {"t": 47.4, "fu": 17.7, "label": "4.0 Kb"}, {"t": 53.15, "fu": 9.1, "label": "6.0 Kb"}]},
     "mark": {"type": "text", "fontSize": 15, "color": "#1a1a1a", "baseline": "middle"},
     "encoding": {"x": {"field": "t", "type": "quantitative", "scale": {"domain": [17.85, 67.7], "nice": false, "zero": false}, "axis": null},
      "y": {"field": "fu", "type": "quantitative", "scale": {"domain": [-4.9, 54.6], "nice": false, "zero": false}, "axis": null}, "text": {"field": "label"}}},
    {"data": {"values": [{}]}, "mark": {"type": "text", "text": "Ladder", "align": "right", "baseline": "top", "fontSize": 7, "color": "#444", "dx": -3, "dy": 2},
     "encoding": {"x": {"datum": 67.7, "type": "quantitative", "scale": {"domain": [17.85, 67.7], "nice": false, "zero": false}, "axis": null},
      "y": {"datum": 54.6, "type": "quantitative", "scale": {"domain": [-4.9, 54.6], "nice": false, "zero": false}, "axis": null}}},
    {"data": {"values": [{}]}, "mark": {"type": "point", "shape": "triangle-up", "filled": true, "size": 14, "color": "#e03a3a", "opacity": 1},
     "encoding": {"x": {"datum": 17.85, "type": "quantitative", "scale": {"domain": [17.85, 67.7], "nice": false, "zero": false}, "axis": null},
      "y": {"datum": 54.6, "type": "quantitative", "scale": {"domain": [-4.9, 54.6], "nice": false, "zero": false}, "axis": null}}}
   ]}
 ]}
]
}
